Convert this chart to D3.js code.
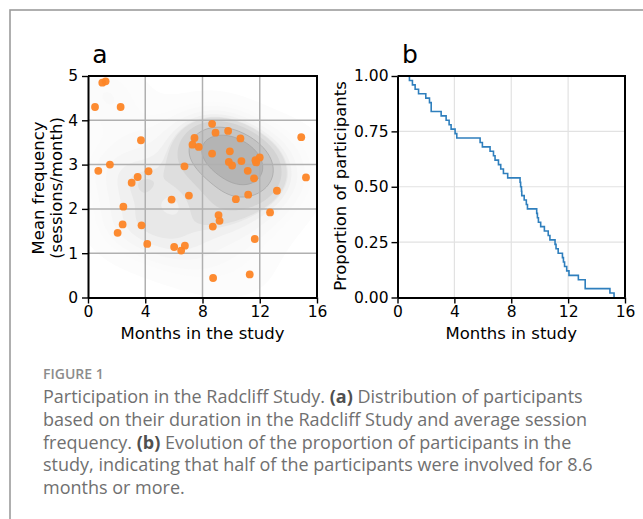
<!DOCTYPE html>
<html>
<head>
<meta charset="utf-8">
<script src="https://cdn.jsdelivr.net/npm/d3@7"></script>
<style>
  body { margin: 0; background: #fff; }
  svg { display: block; }
  .tick text { font-family: "DejaVu Sans", sans-serif; }
</style>
</head>
<body>
<svg id="fig" width="643" height="519"></svg>
<script>
// Panel a: one dot per participant (months in the study, mean sessions per month)
const monthsInStudy = [1.00, 1.23, 0.49, 2.28, 3.70, 8.67, 8.91, 9.79, 10.65, 7.44,
  7.30, 7.74, 8.67, 9.91, 9.84, 10.07, 10.72, 11.70, 12.00, 14.90,
  15.23, 11.16, 11.60, 13.20, 11.19, 10.33, 6.74, 0.72, 1.53, 4.23,
  3.47, 3.05, 5.84, 7.05, 2.47, 2.42, 2.07, 3.74, 4.14, 6.02,
  6.77, 6.51, 9.12, 9.19, 8.72, 12.72, 11.65, 11.30, 8.74, 11.75];
const meanFrequency = [4.85, 4.88, 4.30, 4.30, 3.55, 3.92, 3.72, 3.76, 3.59, 3.60,
  3.45, 3.40, 3.25, 3.30, 3.06, 2.98, 3.08, 3.10, 3.16, 3.62,
  2.71, 2.86, 2.69, 2.41, 2.32, 2.22, 2.96, 2.86, 3.00, 2.85,
  2.72, 2.59, 2.21, 2.30, 2.05, 1.65, 1.46, 1.63, 1.21, 1.14,
  1.17, 1.06, 1.86, 1.73, 1.60, 1.92, 1.32, 0.52, 0.44, 3.05];

// Panel b: step curve, month of each drop and the share still in the study
const stepMonths = [0.66, 0.84, 1.05, 1.24, 1.48, 1.99, 2.25, 2.37, 3.07, 3.42,
  3.63, 3.77, 4.05, 4.17, 5.81, 5.97, 6.51, 6.75, 6.86, 7.10,
  7.26, 7.45, 7.75, 8.62, 8.66, 8.72, 8.74, 8.91, 9.06, 9.14,
  9.79, 9.84, 9.91, 10.07, 10.33, 10.60, 10.72, 11.08, 11.15, 11.30,
  11.60, 11.67, 11.75, 11.90, 12.06, 12.72, 13.20, 14.94, 15.23];
const stepShare = [1.00, 0.98, 0.96, 0.94, 0.92, 0.90, 0.88, 0.84, 0.82, 0.80,
  0.78, 0.76, 0.74, 0.72, 0.70, 0.68, 0.66, 0.64, 0.62, 0.60,
  0.58, 0.56, 0.54, 0.52, 0.50, 0.48, 0.46, 0.44, 0.42, 0.40,
  0.38, 0.36, 0.34, 0.32, 0.30, 0.28, 0.26, 0.24, 0.22, 0.20,
  0.18, 0.16, 0.14, 0.12, 0.10, 0.08, 0.04, 0.02, 0.00];

const monthTicks = [0, 4, 8, 12, 16];
const freqTicks = [0, 1, 2, 3, 4, 5];
const shareTicks = [0, 0.25, 0.5, 0.75, 1];

const captionLines = [
  [["Participation in the Radcliff Study. ", 0], ["(a)", 1], [" Distribution of participants", 0]],
  [["based on their duration in the Radcliff Study and average session", 0]],
  [["frequency. ", 0], ["(b)", 1], [" Evolution of the proportion of participants in the", 0]],
  [["study, indicating that half of the participants were involved for 8.6", 0]],
  [["months or more.", 0]]
];

const svg = d3.select("#fig");
svg.append("rect").attr("width", 643).attr("height", 519).attr("fill", "#fff");

// frame around the figure (open on the right)
svg.append("rect")
  .attr("x", 10).attr("y", 10).attr("width", 700).attr("height", 520)
  .attr("fill", "none").attr("stroke", "#9c9c9c").attr("stroke-width", 1.6);

const plotTop = 76, plotBottom = 297.5;
const panelA = { left: 88, right: 317 };
const panelB = { left: 397.5, right: 625 };

// ---------- panel a ----------
const xA = d3.scaleLinear().domain([0, 16]).range([panelA.left, panelA.right]);
const yA = d3.scaleLinear().domain([0, 5]).range([plotBottom, plotTop]);
const gA = svg.append("g");

// bivariate gaussian KDE (scott bandwidth, full covariance) like seaborn
const n = monthsInStudy.length;
const mx = d3.mean(monthsInStudy), my = d3.mean(meanFrequency);
let sxx = 0, syy = 0, sxy = 0;
for (let i = 0; i < n; i++) {
  const dx = monthsInStudy[i] - mx, dy = meanFrequency[i] - my;
  sxx += dx * dx; syy += dy * dy; sxy += dx * dy;
}
sxx /= n - 1; syy /= n - 1; sxy /= n - 1;
const bw = Math.pow(n, -1 / 6);
const kxx = sxx * bw * bw, kyy = syy * bw * bw, kxy = sxy * bw * bw;
const det = kxx * kyy - kxy * kxy;
const ixx = kyy / det, iyy = kxx / det, ixy = -kxy / det;

const cell = 2;
const nx = Math.ceil((panelA.right - panelA.left) / cell);
const ny = Math.ceil((plotBottom - plotTop) / cell);
const dens = new Float64Array(nx * ny);
for (let j = 0; j < ny; j++) {
  const fy = yA.invert(plotTop + (j + 0.5) * cell);
  for (let i = 0; i < nx; i++) {
    const fx = xA.invert(panelA.left + (i + 0.5) * cell);
    let s = 0;
    for (let k = 0; k < n; k++) {
      const dx = fx - monthsInStudy[k], dy = fy - meanFrequency[k];
      s += Math.exp(-0.5 * (ixx * dx * dx + 2 * ixy * dx * dy + iyy * dy * dy));
    }
    dens[j * nx + i] = s;
  }
}
// iso-proportion levels
const sorted = Array.from(dens).sort((a, b) => a - b);
const total = d3.sum(sorted);
const cum = [];
let acc = 0;
for (const v of sorted) { acc += v; cum.push(acc / total); }
const nLev = 10;
const props = d3.range(nLev).map(i => 0.03 + i * (0.88 - 0.03) / (nLev - 1));
const levels = props.map(q => sorted[Math.min(sorted.length - 1, d3.bisectLeft(cum, q))]);
const shade = d3.interpolateRgb("#fcfcfc", "#b4b4b4");

const contours = d3.contours().size([nx, ny]).thresholds(levels)(dens);
const cPath = d3.geoPath(d3.geoIdentity().scale(cell));
gA.append("g")
  .attr("transform", `translate(${panelA.left},${plotTop})`)
  .selectAll("path")
  .data(contours)
  .join("path")
  .attr("d", cPath)
  .attr("fill", (d, i) => shade(Math.pow(i / (nLev - 1), 2.2)))
  .attr("stroke", (d, i) => i >= nLev - 2 ? "#9a9a9a" : "none")
  .attr("stroke-opacity", 0.7)
  .attr("stroke-width", 0.8);

// grid
gA.append("g").selectAll("line")
  .data(monthTicks.slice(1, -1))
  .join("line")
  .attr("x1", d => xA(d)).attr("x2", d => xA(d))
  .attr("y1", plotTop).attr("y2", plotBottom)
  .attr("stroke", "#b0b0b0").attr("stroke-width", 1.5);
gA.append("g").selectAll("line")
  .data(freqTicks.slice(1, -1))
  .join("line")
  .attr("y1", d => yA(d)).attr("y2", d => yA(d))
  .attr("x1", panelA.left).attr("x2", panelA.right)
  .attr("stroke", "#b0b0b0").attr("stroke-width", 1.5);

// participants
gA.append("g").selectAll("circle")
  .data(d3.range(n))
  .join("circle")
  .attr("cx", i => xA(monthsInStudy[i]))
  .attr("cy", i => yA(meanFrequency[i]))
  .attr("r", 3.9)
  .attr("fill", "#fd8526")
  .attr("fill-opacity", 0.95);

function styleAxis(g) {
  g.selectAll("path").attr("stroke", "#000").attr("stroke-width", 2);
  g.selectAll(".tick line").attr("stroke", "#000").attr("stroke-width", 1.4);
  g.selectAll(".tick text").attr("fill", "#000").attr("font-size", 15.5);
}

gA.append("g")
  .attr("transform", `translate(0,${plotBottom})`)
  .call(d3.axisBottom(xA).tickValues(monthTicks).tickSize(6).tickPadding(2).tickSizeOuter(0))
  .call(styleAxis);
gA.append("g")
  .attr("transform", `translate(${panelA.left},0)`)
  .call(d3.axisLeft(yA).tickValues(freqTicks).tickFormat(d3.format("d")).tickSize(6).tickPadding(4).tickSizeOuter(0))
  .call(styleAxis);
// top and right spines
gA.append("path")
  .attr("d", `M${panelA.left},${plotTop}H${panelA.right}V${plotBottom}`)
  .attr("fill", "none").attr("stroke", "#000").attr("stroke-width", 2);

// ---------- panel b ----------
const xB = d3.scaleLinear().domain([0, 16]).range([panelB.left, panelB.right]);
const yB = d3.scaleLinear().domain([0, 1]).range([plotBottom, plotTop]);
const gB = svg.append("g");

gB.append("g").selectAll("line")
  .data(monthTicks.slice(1, -1))
  .join("line")
  .attr("x1", d => xB(d)).attr("x2", d => xB(d))
  .attr("y1", plotTop).attr("y2", plotBottom)
  .attr("stroke", "#e2e2e2").attr("stroke-width", 1.2);
gB.append("g").selectAll("line")
  .data(shareTicks.slice(1, -1))
  .join("line")
  .attr("y1", d => yB(d)).attr("y2", d => yB(d))
  .attr("x1", panelB.left).attr("x2", panelB.right)
  .attr("stroke", "#e2e2e2").attr("stroke-width", 1.2);

const stepLine = d3.line()
  .x(i => xB(stepMonths[i]))
  .y(i => yB(stepShare[i]))
  .curve(d3.curveStepAfter);
gB.append("path")
  .attr("d", stepLine(d3.range(stepMonths.length)))
  .attr("fill", "none")
  .attr("stroke", "#2f7fbd")
  .attr("stroke-width", 1.6);

gB.append("g")
  .attr("transform", `translate(0,${plotBottom})`)
  .call(d3.axisBottom(xB).tickValues(monthTicks).tickSize(6).tickPadding(2).tickSizeOuter(0))
  .call(styleAxis);
gB.append("g")
  .attr("transform", `translate(${panelB.left},0)`)
  .call(d3.axisLeft(yB).tickValues(shareTicks).tickFormat(d3.format(".2f")).tickSize(6).tickPadding(3).tickSizeOuter(0))
  .call(styleAxis);
gB.append("path")
  .attr("d", `M${panelB.left},${plotTop}H${panelB.right}V${plotBottom}`)
  .attr("fill", "none").attr("stroke", "#000").attr("stroke-width", 2);

// ---------- labels ----------
const label = (x, y, txt, size, rot) => svg.append("text")
  .attr("transform", `translate(${x},${y})` + (rot ? ` rotate(${rot})` : ""))
  .attr("text-anchor", "middle")
  .attr("font-family", "DejaVu Sans, sans-serif")
  .attr("font-size", size)
  .attr("fill", "#000")
  .text(txt);

label(100, 63, "a", 25);
label(410, 63, "b", 25);
label((panelA.left + panelA.right) / 2, 339, "Months in the study", 16.5);
label((panelB.left + panelB.right) / 2, 339, "Months in study", 16.5);
label(44, 188, "Mean frequency", 16.5, -90);
label(62, 188, "(sessions/month)", 16.5, -90);
label(346, 186, "Proportion of participants", 16.5, -90);

// ---------- caption ----------
svg.append("text")
  .attr("x", 43).attr("y", 379)
  .attr("font-family", "Open Sans, sans-serif")
  .attr("font-size", 14)
  .attr("font-weight", 600)
  .attr("fill", "#8c8c8c")
  .text("FIGURE 1");

const cap = svg.append("text")
  .attr("font-family", "Open Sans, sans-serif")
  .attr("font-size", 18)
  .attr("fill", "#707070");
captionLines.forEach((parts, li) => {
  parts.forEach(([t, bold], pi) => {
    const ts = cap.append("tspan")
      .text(t)
      .attr("font-weight", bold ? 700 : 400)
      .attr("fill", bold ? "#505050" : null);
    if (pi === 0) ts.attr("x", 43).attr("y", 403 + li * 22.8);
  });
});
</script>
</body>
</html>
